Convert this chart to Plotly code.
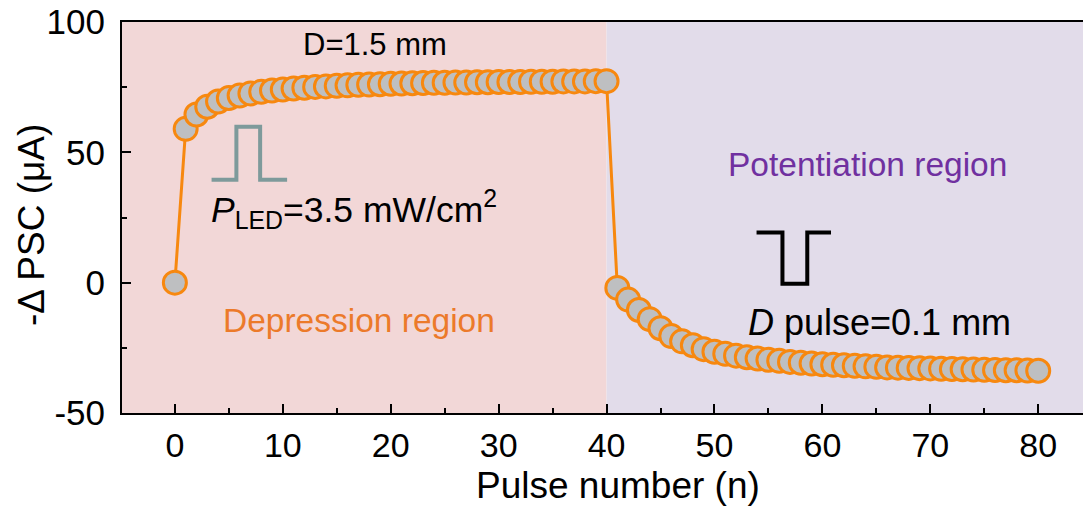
import plotly.graph_objects as go

# Pulse numbers and -ΔPSC response (μA)
pulse_n = list(range(0, 81))
depression_psc = [
    0.0, 59.0, 64.5, 67.5, 69.5, 70.8, 71.8, 72.6, 73.2, 73.7,
    74.1, 74.5, 74.8, 75.1, 75.3, 75.5, 75.7, 75.9, 76.0, 76.1,
    76.3, 76.4, 76.5, 76.6, 76.7, 76.7, 76.8, 76.8, 76.9, 76.9,
    77.0, 77.0, 77.0, 77.1, 77.1, 77.1, 77.2, 77.2, 77.2, 77.3,
    77.3,
]
potentiation_psc = [
    -2.0, -6.5, -10.5, -14.0, -17.5, -20.5, -22.5, -24.0, -25.5, -26.5,
    -27.3, -28.0, -28.6, -29.1, -29.6, -30.0, -30.4, -30.7, -31.0, -31.3,
    -31.5, -31.7, -31.9, -32.1, -32.3, -32.5, -32.6, -32.7, -32.8, -32.9,
    -33.0, -33.1, -33.2, -33.3, -33.4, -33.5, -33.6, -33.6, -33.7, -33.8,
]
psc = depression_psc + potentiation_psc

x_ticks = [0, 10, 20, 30, 40, 50, 60, 70, 80]
y_ticks = [-50, 0, 50, 100]
y_tick_text = ["-50", "0", "50", "100"]
x_range = [-4.9, 84.15]
y_range = [-50, 100]
region_split = 40

ORANGE = "#F7880F"
FONT = "Liberation Sans, Arial, sans-serif"

fig = go.Figure()

fig.add_trace(go.Scatter(
    x=pulse_n, y=psc, mode="lines+markers",
    line=dict(color=ORANGE, width=3),
    marker=dict(size=23, color="#BEBFC1", line=dict(color=ORANGE, width=3)),
    showlegend=False, hoverinfo="skip",
))

# Shaded regions
fig.add_shape(type="rect", xref="x", yref="paper", x0=x_range[0], x1=region_split,
              y0=0, y1=1, fillcolor="#F2D7D7", line_width=0, layer="below")
fig.add_shape(type="rect", xref="x", yref="paper", x0=region_split, x1=x_range[1],
              y0=0, y1=1, fillcolor="#E2DCEA", line_width=0, layer="below")

# Pulse schematics
led_pulse = [(3.4, 39.5), (5.7, 39.5), (5.7, 59.8), (7.9, 59.8), (7.9, 39.5), (10.4, 39.5)]
d_pulse = [(53.9, 19.2), (56.3, 19.2), (56.3, -0.4), (58.6, -0.4), (58.6, 19.2), (60.8, 19.2)]

def to_path(pts):
    return "M " + " L ".join(f"{a},{b}" for a, b in pts)

fig.add_shape(type="path", xref="x", yref="y", path=to_path(led_pulse),
              line=dict(color="#7E9A9B", width=4))
fig.add_shape(type="path", xref="x", yref="y", path=to_path(d_pulse),
              line=dict(color="black", width=4))

def label(x, y, text, color="black", size=31):
    fig.add_annotation(x=x, y=y, xref="x", yref="y", text=text, showarrow=False,
                       font=dict(family=FONT, size=size, color=color),
                       xanchor="center", yanchor="middle")

label(18.5, 91.3, "D=1.5 mm", size=31)
label(64.2, 45.3, "Potentiation region", color="#7030A0", size=33.5)
label(17.1, -14.6, "Depression region", color="#EC7A2A", size=33.5)
label(16.6, 28.0, "<i>P</i><sub>LED</sub>=3.5 mW/cm<sup>2</sup>", size=35.5)
label(65.3, -15.3, "<i>D</i> pulse=0.1 mm", size=36)

# Axis titles
fig.add_annotation(x=0.516, y=-0.185, xref="paper", yref="paper", text="Pulse number (n)",
                   showarrow=False, xanchor="center", yanchor="middle",
                   font=dict(family=FONT, size=37, color="black"))
fig.add_annotation(x=-0.094, y=0.48, xref="paper", yref="paper", text="-Δ PSC (μA)",
                   showarrow=False, xanchor="center", yanchor="middle", textangle=-90,
                   font=dict(family=FONT, size=37, color="black"))

fig.update_xaxes(
    range=x_range, tickvals=x_ticks, ticks="inside", ticklen=9, tickwidth=2,
    tickcolor="black", showline=True, linecolor="black", linewidth=2, mirror=True,
    showgrid=False, zeroline=False,
    minor=dict(ticks="inside", dtick=5, tick0=0, ticklen=5, tickwidth=2, tickcolor="black", showgrid=False),
    tickfont=dict(family=FONT, size=34, color="black"), ticklabelstandoff=1,
)
fig.update_yaxes(
    range=y_range, tickvals=y_ticks, ticktext=y_tick_text, ticks="inside", ticklen=9, tickwidth=2,
    tickcolor="black", showline=True, linecolor="black", linewidth=2,
    showgrid=False, zeroline=False,
    minor=dict(ticks="inside", dtick=25, tick0=0, ticklen=5, tickwidth=2, tickcolor="black", showgrid=False),
    tickfont=dict(family=FONT, size=35, color="black"), ticklabelstandoff=8,
)

fig.update_layout(
    width=1083, height=509,
    margin=dict(l=122, r=0, t=22, b=96, autoexpand=False),
    paper_bgcolor="white", plot_bgcolor="white",
)

fig.write_html("out.html")
